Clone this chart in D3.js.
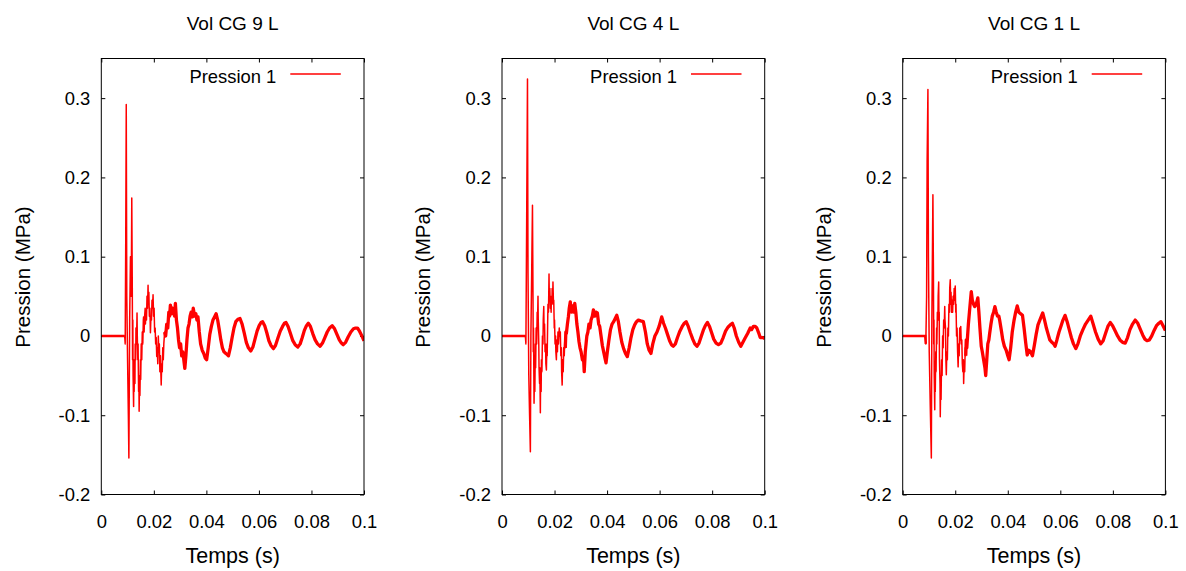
<!DOCTYPE html>
<html><head><meta charset="utf-8">
<script src="https://cdn.jsdelivr.net/npm/d3@7"></script>
<style>
body{margin:0;background:#fff}
text{font-family:"Liberation Sans",Arial,sans-serif;fill:#000}
</style>
</head><body>
<svg id="c" width="1186" height="571"></svg>
<script>
const titles = ["Vol CG 9 L", "Vol CG 4 L", "Vol CG 1 L"];
const legendLabel = "Pression 1";
const xLabel = "Temps (s)";
const yLabel = "Pression (MPa)";
const xTicks = [0, 0.02, 0.04, 0.06, 0.08, 0.1];
const xTickLabels = ["0", "0.02", "0.04", "0.06", "0.08", "0.1"];
const yTicks = [-0.2, -0.1, 0, 0.1, 0.2, 0.3];
const yTickLabels = ["-0.2", "-0.1", "0", "0.1", "0.2", "0.3"];

// [time (s), pressure (MPa)]
const series9L = [
[0,0],[0.0089,0],[0.0091,-0.01],[0.0093,0.12],[0.0095,0.292],[0.0097,0.05],[0.0100,-0.03],[0.0103,-0.10],[0.0105,-0.154],
[0.0108,0.02],[0.0111,0.10],[0.0114,0.05],[0.0116,0.174],
[0.0118,0.06],[0.0119,-0.03],[0.0120,0.02],[0.0121,-0.05],[0.0123,-0.089],[0.0124,-0.03],[0.0125,-0.07],[0.0126,-0.04],
[0.0128,-0.06],[0.0129,-0.01],[0.0131,-0.03],[0.0132,0.01],[0.0134,-0.01],[0.0136,0.029],[0.0137,0.00],[0.0139,-0.03],
[0.0140,-0.01],[0.0142,-0.07],[0.0143,-0.05],[0.0144,-0.095],[0.0146,-0.05],[0.0147,-0.075],[0.0149,-0.03],[0.0150,-0.055],
[0.0152,-0.01],[0.0154,-0.03],[0.0156,0.005],[0.0158,-0.01],[0.0160,0.02],[0.0161,0.024],[0.0163,0.005],[0.0165,0.025],
[0.0167,0.035],[0.0168,0.015],[0.0170,0.030],[0.0172,0.020],[0.0174,0.05],[0.0176,0.035],[0.0178,0.064],[0.0179,0.045],
[0.0181,0.055],[0.0183,0.025],[0.0185,0.035],[0.0187,0.004],[0.0189,0.025],[0.0191,0.02],[0.0193,0.045],[0.0195,0.035],
[0.0197,0.052],[0.0199,0.025],[0.0201,0.035],[0.0203,0.005],[0.0205,0.01],[0.0207,-0.01],[0.0209,-0.002],[0.0211,-0.026],
[0.0213,-0.015],[0.0215,-0.035],[0.0217,0.0],[0.0219,-0.02],[0.0221,-0.01],[0.0223,-0.045],[0.0225,-0.025],[0.0227,-0.05],
[0.0228,-0.062],[0.0230,-0.035],[0.0232,-0.045],[0.0234,-0.015],[0.0236,-0.03],[0.0238,-0.01],[0.0241,0.005],
[0.0245,0.000],[0.0249,0.015],[0.0253,0.010],[0.0257,0.030],
[0.0260,0.025],[0.0263,0.039],[0.0267,0.028],[0.0271,0.035],[0.0275,0.030],[0.0279,0.025],[0.0282,0.041],[0.0286,0.020],
[0.0290,0.010],[0.0294,-0.005],[0.0298,-0.015],[0.0302,-0.010],[0.0306,-0.025],[0.0310,-0.020],[0.0314,-0.030],[0.0318,-0.041],
[0.0322,-0.025],[0.0326,-0.005],[0.0330,0.010],[0.0334,0.015],[0.0338,0.025],[0.0342,0.030],[0.0347,0.024],[0.0350,0.035],
[0.0355,0.025],[0.0360,0.028],[0.0364,0.020],[0.0368,0.024],[0.0373,0.005],[0.0378,-0.010],[0.0384,-0.018],[0.0390,-0.022],
[0.0396,-0.028],[0.0401,-0.030],[0.0407,-0.015],[0.0413,0.002],[0.0419,0.012],[0.0425,0.020],[0.0431,0.024],[0.0437,0.028],
[0.0443,0.020],[0.0449,0.008],[0.0455,-0.005],[0.0461,-0.015],[0.0467,-0.020],[0.0474,-0.022],[0.0484,-0.025],[0.0491,-0.015],
[0.0498,-0.002],[0.0505,0.010],[0.0512,0.018],[0.0520,0.021],[0.0528,0.022],[0.0536,0.015],[0.0544,0.004],[0.0552,-0.008],
[0.0560,-0.015],[0.0569,-0.019],[0.0577,-0.014],[0.0585,-0.004],[0.0593,0.006],[0.0601,0.013],[0.0608,0.017],[0.0614,0.018],
[0.0622,0.013],[0.0630,0.004],[0.0638,-0.006],[0.0646,-0.012],[0.0655,-0.016],[0.0663,-0.012],[0.0672,-0.003],[0.0681,0.006],
[0.0690,0.012],[0.0697,0.016],[0.0703,0.017],[0.0711,0.012],[0.0720,0.003],[0.0729,-0.006],[0.0738,-0.011],[0.0748,-0.014],
[0.0757,-0.010],[0.0765,-0.002],[0.0773,0.007],[0.0781,0.013],[0.0788,0.016],[0.0796,0.012],[0.0805,0.003],[0.0814,-0.005],
[0.0823,-0.010],[0.0833,-0.013],[0.0842,-0.009],[0.0851,-0.002],[0.0860,0.005],[0.0869,0.010],[0.0879,0.013],[0.0888,0.009],
[0.0897,0.002],[0.0906,-0.005],[0.0914,-0.009],[0.0921,-0.011],[0.0930,-0.008],[0.0940,-0.001],[0.0950,0.005],[0.0960,0.009],
[0.0968,0.010],[0.0975,0.010],[0.0983,0.006],[0.0992,0.000],[0.1000,-0.006]
];

const series4L = [
[0,0],[0.0089,0],[0.0091,-0.01],[0.0094,0.15],[0.0097,0.324],[0.0099,0.08],[0.0102,-0.05],[0.0105,-0.10],[0.0108,-0.146],
[0.0110,0.00],[0.0113,0.08],[0.0116,0.165],
[0.0118,0.05],[0.0119,-0.02],[0.0120,0.01],[0.0122,-0.085],[0.0124,-0.04],[0.0125,-0.07],[0.0127,-0.01],[0.0128,-0.04],
[0.0130,0.01],[0.0132,-0.01],[0.0134,0.03],[0.0135,0.01],[0.0137,0.050],[0.0138,0.02],[0.0140,-0.01],[0.0141,-0.04],
[0.0143,-0.06],[0.0144,-0.04],[0.0146,-0.097],[0.0147,-0.05],[0.0149,-0.07],[0.0150,-0.03],[0.0152,-0.045],[0.0154,0.0],
[0.0156,-0.01],[0.0157,0.02],[0.0159,0.037],[0.0160,0.01],[0.0162,0.015],[0.0164,-0.02],[0.0166,-0.01],[0.0167,-0.035],
[0.0169,-0.043],[0.0171,-0.01],[0.0172,-0.025],[0.0174,0.02],[0.0175,0.04],[0.0177,0.03],[0.0179,0.078],[0.0180,0.05],
[0.0182,0.06],[0.0184,0.035],[0.0185,0.045],[0.0187,0.03],[0.0188,0.05],[0.0190,0.04],[0.0191,0.06],[0.0193,0.05],
[0.0194,0.068],[0.0196,0.04],[0.0197,0.045],[0.0199,0.01],[0.0200,0.02],[0.0202,-0.01],[0.0204,0.0],[0.0205,-0.02],
[0.0207,-0.030],[0.0209,-0.005],[0.0211,-0.02],[0.0213,0.005],[0.0215,-0.01],[0.0218,0.01],[0.0220,0.0],[0.0222,0.005],
[0.0224,-0.025],[0.0226,-0.015],[0.0227,-0.045],[0.0229,-0.062],[0.0231,-0.03],[0.0233,-0.045],[0.0235,-0.015],[0.0237,-0.025],
[0.0239,-0.005],[0.0241,-0.015],[0.0243,0.005],
[0.0245,0.003],[0.0249,0.015],[0.0253,0.025],[0.0256,0.035],[0.0260,0.043],[0.0264,0.030],[0.0268,0.038],
[0.0273,0.030],[0.0277,0.041],[0.0281,0.030],[0.0285,0.015],[0.0289,0.005],[0.0293,-0.007],[0.0297,-0.015],[0.0301,-0.020],
[0.0306,-0.030],[0.0311,-0.032],[0.0313,-0.045],[0.0317,-0.020],[0.0320,-0.010],[0.0323,0.000],[0.0327,0.005],[0.0331,0.015],
[0.0335,0.010],[0.0339,0.020],[0.0344,0.025],[0.0348,0.033],[0.0353,0.025],[0.0358,0.030],[0.0363,0.029],[0.0368,0.015],
[0.0372,0.012],[0.0377,0.000],[0.0382,-0.012],[0.0387,-0.020],[0.0392,-0.028],[0.0396,-0.034],[0.0401,-0.020],[0.0407,-0.005],
[0.0413,0.008],[0.0419,0.015],[0.0425,0.018],[0.0431,0.022],[0.0437,0.026],[0.0443,0.018],[0.0449,0.005],[0.0456,-0.008],
[0.0463,-0.016],[0.0470,-0.022],[0.0477,-0.026],[0.0484,-0.015],[0.0491,-0.002],[0.0498,0.008],[0.0505,0.014],[0.0512,0.018],
[0.0519,0.020],[0.0528,0.019],[0.0538,0.018],[0.0546,0.005],[0.0553,-0.010],[0.0560,-0.018],[0.0567,-0.022],[0.0574,-0.010],
[0.0582,0.000],[0.0590,0.005],[0.0598,0.012],[0.0603,0.018],[0.0608,0.024],[0.0615,0.016],[0.0622,0.010],[0.0630,0.002],
[0.0638,-0.006],[0.0645,-0.011],[0.0652,-0.013],[0.0660,-0.010],[0.0668,-0.002],[0.0677,0.006],[0.0686,0.012],[0.0694,0.016],
[0.0701,0.018],[0.0709,0.012],[0.0717,0.004],[0.0726,-0.004],[0.0734,-0.010],[0.0742,-0.013],[0.0750,-0.009],[0.0758,-0.001],
[0.0766,0.007],[0.0774,0.013],[0.0782,0.017],[0.0790,0.012],[0.0798,0.004],[0.0806,-0.004],[0.0815,-0.009],[0.0824,-0.011],
[0.0833,-0.009],[0.0842,-0.002],[0.0851,0.006],[0.0860,0.011],[0.0869,0.014],[0.0877,0.016],[0.0884,0.010],[0.0892,0.000],
[0.0901,-0.008],[0.0909,-0.013],[0.0917,-0.008],[0.0925,-0.003],[0.0935,0.003],[0.0945,0.010],[0.0950,0.008],[0.0957,0.012],
[0.0964,0.012],[0.0970,0.010],[0.0977,0.004],[0.0983,-0.002],[0.0991,-0.002],[0.1000,-0.003]
];

const series1L = [
[0,0],[0.0086,0],[0.0088,-0.01],[0.0091,0.05],[0.0093,0.22],[0.0096,0.311],[0.0098,0.10],[0.0101,-0.02],[0.0105,-0.09],
[0.0109,-0.154],[0.0111,0.02],[0.0113,0.10],[0.0115,0.178],
[0.0117,0.08],[0.0118,-0.01],[0.0119,0.02],[0.0120,-0.05],[0.0122,-0.093],[0.0123,-0.04],[0.0124,-0.07],[0.0126,-0.02],
[0.0127,-0.045],[0.0129,0.01],[0.0130,-0.01],[0.0132,0.03],[0.0134,0.02],[0.0135,0.05],[0.0137,0.068],[0.0138,0.02],
[0.0139,0.03],[0.0140,-0.03],[0.0142,-0.06],[0.0143,-0.102],[0.0145,-0.05],[0.0146,-0.08],[0.0148,-0.03],[0.0150,-0.05],
[0.0152,0.0],[0.0154,-0.015],[0.0156,0.02],[0.0158,0.01],[0.0160,0.037],[0.0161,0.02],[0.0163,0.01],[0.0164,-0.025],
[0.0166,-0.049],[0.0168,-0.02],[0.0170,-0.03],[0.0172,0.01],[0.0174,0.0],[0.0176,0.04],[0.0178,0.03],[0.0179,0.06],
[0.0181,0.071],[0.0183,0.04],[0.0184,0.055],[0.0186,0.03],[0.0188,0.045],[0.0190,0.03],[0.0192,0.05],[0.0194,0.04],
[0.0196,0.06],[0.0198,0.045],[0.0200,0.063],[0.0202,0.03],[0.0203,0.04],[0.0205,0.0],[0.0207,0.01],[0.0209,-0.02],
[0.0211,-0.039],[0.0213,-0.01],[0.0215,-0.025],[0.0217,0.01],[0.0219,-0.005],[0.0221,0.012],[0.0223,-0.01],[0.0225,-0.005],
[0.0227,-0.035],[0.0229,-0.045],[0.0231,-0.03],[0.0232,-0.060],[0.0234,-0.035],[0.0236,-0.045],[0.0238,-0.015],[0.0240,-0.025],
[0.0242,-0.005],[0.0244,-0.015],[0.0246,-0.005],
[0.0250,0.015],[0.0254,0.030],[0.0258,0.045],[0.0261,0.056],[0.0265,0.045],[0.0270,0.040],[0.0274,0.037],
[0.0280,0.040],[0.0286,0.048],[0.0290,0.030],[0.0294,0.010],[0.0299,-0.013],[0.0303,-0.020],[0.0308,-0.030],[0.0313,-0.040],
[0.0316,-0.050],[0.0320,-0.030],[0.0324,-0.010],[0.0328,-0.005],[0.0331,0.003],[0.0336,0.015],[0.0341,0.025],[0.0346,0.030],
[0.0351,0.037],[0.0356,0.030],[0.0361,0.025],[0.0366,0.025],[0.0369,0.020],[0.0375,0.008],[0.0381,-0.005],[0.0387,-0.013],
[0.0394,-0.018],[0.0400,-0.025],[0.0405,-0.030],[0.0411,-0.015],[0.0417,0.005],[0.0424,0.020],[0.0430,0.030],[0.0436,0.038],
[0.0442,0.030],[0.0449,0.028],[0.0456,0.026],[0.0462,0.010],[0.0468,-0.008],[0.0474,-0.024],[0.0480,-0.018],[0.0487,-0.020],
[0.0494,-0.025],[0.0501,-0.012],[0.0508,0.002],[0.0515,0.014],[0.0522,0.020],[0.0528,0.025],[0.0533,0.029],[0.0540,0.020],
[0.0547,0.010],[0.0553,0.003],[0.0560,-0.005],[0.0568,-0.008],[0.0575,-0.010],[0.0580,-0.013],[0.0587,-0.005],[0.0595,0.005],
[0.0603,0.013],[0.0610,0.020],[0.0618,0.026],[0.0626,0.018],[0.0634,0.008],[0.0642,-0.002],[0.0650,-0.010],[0.0659,-0.016],
[0.0667,-0.010],[0.0676,0.000],[0.0686,0.008],[0.0696,0.015],[0.0706,0.020],[0.0716,0.025],[0.0725,0.015],[0.0734,0.005],
[0.0744,-0.004],[0.0754,-0.010],[0.0763,-0.006],[0.0772,0.003],[0.0781,0.012],[0.0790,0.017],[0.0799,0.013],[0.0808,0.007],
[0.0818,0.000],[0.0827,-0.005],[0.0837,-0.008],[0.0847,-0.009],[0.0856,-0.002],[0.0865,0.008],[0.0875,0.015],[0.0885,0.020],
[0.0895,0.016],[0.0905,0.008],[0.0914,0.001],[0.0922,-0.004],[0.0930,-0.006],[0.0939,-0.005],[0.0948,0.000],[0.0957,0.007],
[0.0966,0.013],[0.0975,0.016],[0.0983,0.018],[0.0991,0.013],[0.1000,0.007]
];

const panelSeries = [series9L, series4L, series1L];

const svg = d3.select("#c");
const panelLeft = [101.3, 502, 902.7];
const plotW = 262.7, plotTop = 58.5, plotBottom = 494.5;
const FS = 18.4;

panelSeries.forEach((data, i) => {
  const g = svg.append("g").attr("transform", `translate(${panelLeft[i]},0)`);
  const x = d3.scaleLinear().domain([0, 0.1]).range([0, plotW]);
  const y = d3.scaleLinear().domain([-0.2, 0.35]).range([plotBottom, plotTop]);

  const clipId = "clip" + i;
  g.append("clipPath").attr("id", clipId).append("rect")
    .attr("x", 0).attr("y", plotTop).attr("width", plotW).attr("height", plotBottom - plotTop);

  const styleAxis = (sel, labels) => {
    sel.select(".domain").remove();
    sel.selectAll(".tick line").attr("stroke", "#000").attr("stroke-width", 1);
    sel.selectAll(".tick text").style("font-size", FS + "px")
      .style("font-family", '"Liberation Sans", Arial, sans-serif').attr("fill", "#000");
    if (!labels) sel.selectAll(".tick text").remove();
  };

  g.append("g").attr("transform", `translate(0,${plotBottom})`)
    .call(d3.axisBottom(x).tickValues(xTicks).tickFormat((d, j) => xTickLabels[j]).tickSizeInner(-4).tickSizeOuter(0).tickPadding(20))
    .call(s => styleAxis(s, true));
  g.append("g").attr("transform", `translate(0,${plotTop})`)
    .call(d3.axisTop(x).tickValues(xTicks).tickSizeInner(-4).tickSizeOuter(0))
    .call(s => styleAxis(s, false));
  g.append("g")
    .call(d3.axisLeft(y).tickValues(yTicks).tickFormat((d, j) => yTickLabels[j]).tickSizeInner(-4).tickSizeOuter(0).tickPadding(11))
    .call(s => styleAxis(s, true));
  g.append("g").attr("transform", `translate(${plotW},0)`)
    .call(d3.axisRight(y).tickValues(yTicks).tickSizeInner(-4).tickSizeOuter(0))
    .call(s => styleAxis(s, false));

  const line = d3.line().x(d => x(d[0])).y(d => y(d[1]));
  const lg = g.append("g").attr("clip-path", `url(#${clipId})`);
  lg.append("path").datum(data).attr("d", line)
    .attr("fill", "none").attr("stroke", "#ff0000").attr("stroke-width", 1.5).attr("stroke-linejoin", "round");
  lg.append("path").datum(data.filter(d => d[0] >= 0.0240)).attr("d", line)
    .attr("fill", "none").attr("stroke", "#ff0000").attr("stroke-width", 3.3).attr("stroke-linejoin", "round");
  lg.append("path").datum(data.filter(d => d[0] <= 0.0089)).attr("d", line)
    .attr("fill", "none").attr("stroke", "#ff0000").attr("stroke-width", 2.5);

  // frame
  g.append("rect").attr("x", 0).attr("y", plotTop).attr("width", plotW).attr("height", plotBottom - plotTop)
    .attr("fill", "none").attr("stroke", "#000").attr("stroke-width", 1);

  // legend
  g.append("text").attr("x", 175).attr("y", 83).attr("text-anchor", "end")
    .style("font-size", FS + "px").text(legendLabel);
  g.append("line").attr("x1", 189).attr("x2", 239.5).attr("y1", 74).attr("y2", 74)
    .attr("stroke", "#ff0000").attr("stroke-width", 1.5);

  // title
  g.append("text").attr("x", plotW / 2).attr("y", 30).attr("text-anchor", "middle")
    .style("font-size", "19px").text(titles[i]);
  // x label
  g.append("text").attr("x", plotW / 2).attr("y", 563).attr("text-anchor", "middle")
    .style("font-size", "21.5px").text(xLabel);
  // y label
  g.append("text").attr("transform", `translate(${22 - 101.3},277) rotate(-90)`)
    .attr("text-anchor", "middle").attr("dominant-baseline", "central")
    .style("font-size", "20.5px").text(yLabel);
});
</script>
</body></html>
